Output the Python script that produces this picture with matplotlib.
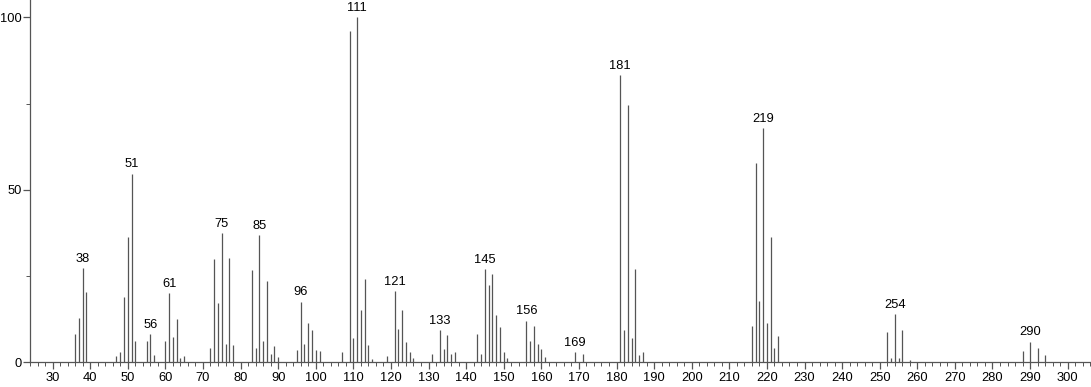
import numpy as np
import matplotlib
matplotlib.use("Agg")
import matplotlib.pyplot as plt
from matplotlib.ticker import MultipleLocator

# 质谱峰 m/z 与相对强度
mz = [36, 37, 38, 39, 47, 48, 49, 50, 51, 52, 55, 56, 57, 60, 61, 62, 63, 64, 65,
      72, 73, 74, 75, 76, 77, 78, 83, 84, 85, 86, 87, 88, 89, 90,
      95, 96, 97, 98, 99, 100, 101, 107, 109, 110, 111, 112, 113, 114, 115,
      119, 121, 122, 123, 124, 125, 126, 131, 133, 134, 135, 136, 137,
      143, 144, 145, 146, 147, 148, 149, 150, 151,
      156, 157, 158, 159, 160, 161, 169, 171,
      181, 182, 183, 184, 185, 186, 187,
      216, 217, 218, 219, 220, 221, 222, 223,
      252, 253, 254, 255, 256, 258, 288, 290, 292, 294]
intensity = [8.1, 12.9, 27.3, 20.3, 1.7, 3.1, 19.0, 36.3, 54.7, 6.3, 6.3, 8.3, 2.1, 6.1, 20.0, 7.2, 12.6, 1.2, 1.8,
             4.1, 29.9, 17.2, 37.4, 5.3, 30.2, 5.0, 26.7, 4.1, 36.9, 6.2, 23.6, 2.4, 4.6, 1.6,
             3.7, 17.6, 5.2, 11.3, 9.3, 3.6, 3.2, 3.1, 96.0, 7.0, 100.0, 15.2, 24.0, 4.9, 1.1,
             1.8, 20.7, 9.6, 15.2, 5.8, 3.0, 1.2, 2.4, 9.3, 3.9, 7.9, 2.4, 3.1,
             8.2, 2.4, 27.0, 22.3, 25.6, 13.6, 10.2, 2.9, 1.2,
             12.1, 6.3, 10.5, 5.3, 3.8, 1.6, 2.9, 2.3,
             83.3, 9.4, 74.6, 7.0, 27.0, 2.1, 2.9,
             10.5, 57.7, 17.8, 68.0, 11.4, 36.3, 4.0, 7.5,
             8.9, 1.2, 13.9, 1.2, 9.4, 0.6, 3.3, 6.0, 4.1, 2.0]
labeled = [38, 51, 56, 61, 75, 85, 96, 111, 121, 133, 145, 156, 169, 181, 219, 254, 290]

plt.rcParams['font.family'] = ['Liberation Sans', 'DejaVu Sans']
plt.rcParams['font.size'] = 9.3

fig = plt.figure(figsize=(10.91, 3.87), dpi=100)
ax = fig.add_axes([30 / 1091, 24.7 / 387, 1061 / 1091, 362.3 / 387])

ax.vlines(mz, 0, intensity, colors='#555555', linewidth=0.9)
for m, v in zip(mz, intensity):
    if m in labeled:
        ax.text(m, v + 0.9, str(m), ha='center', va='bottom', color='black')

ax.set_xlim(24, 306.2)
ax.set_ylim(0, 105)
ax.xaxis.set_major_locator(MultipleLocator(10))
ax.xaxis.set_minor_locator(MultipleLocator(2))
ax.set_yticks([0, 50, 100])
ax.yaxis.set_minor_locator(MultipleLocator(25))

for s in ['top', 'right']:
    ax.spines[s].set_visible(False)
for s in ['left', 'bottom']:
    ax.spines[s].set_color('#555555')
    ax.spines[s].set_linewidth(0.9)

ax.tick_params(which='major', length=5, width=0.9, color='#555555', pad=2)
ax.tick_params(axis='y', which='major', pad=1)
ax.tick_params(which='minor', length=3, width=0.7, color='#555555')

fig.savefig('out.png', dpi=100)
